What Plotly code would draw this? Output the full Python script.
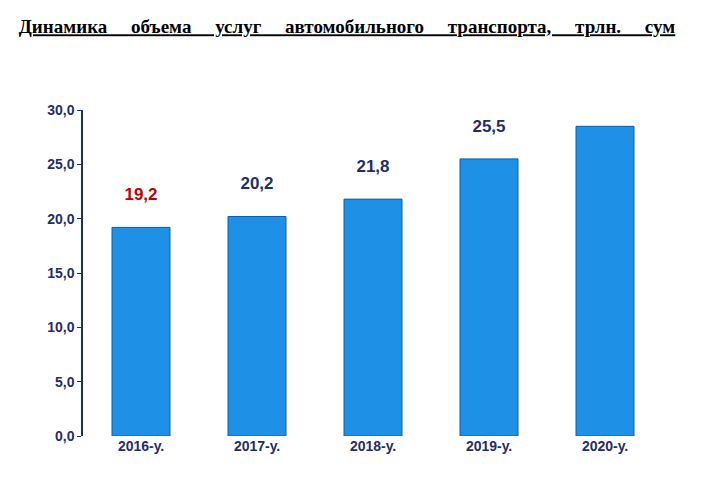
import plotly.graph_objects as go

years = ["2016-у.", "2017-у.", "2018-у.", "2019-у.", "2020-у."]
values = [19.2, 20.2, 21.8, 25.5, 28.5]
label_colors = ["#c00000", "#1f2d6b", "#1f2d6b", "#1f2d6b", "#2e7d1e"]
tick_vals = [0, 5, 10, 15, 20, 25, 30]
tick_text = ["0,0", "5,0", "10,0", "15,0", "20,0", "25,0", "30,0"]
label_text = ["19,2", "20,2", "21,8", "25,5", "28,5"]

words = ["Динамика", "объема", "услуг", "автомобильного", "транспорта,", "трлн.", "сум"]
title = "&nbsp;&nbsp;&nbsp;&nbsp;&nbsp;".join(words)

fig = go.Figure()
fig.add_bar(x=years, y=values, width=0.5,
            marker=dict(color="#1e90e6", line=dict(color="#0d5fa8", width=1)),
            showlegend=False)
fig.add_scatter(x=years, y=[v + 2.9 for v in values], mode="text",
                text=["<b>%s</b>" % t for t in label_text], cliponaxis=False,
                textfont=dict(family="Arial", size=17, color=label_colors),
                showlegend=False, hoverinfo="skip")
fig.update_layout(
    width=720, height=480, plot_bgcolor="white", paper_bgcolor="white",
    margin=dict(l=75, r=65, t=102, b=52),
    title=dict(text="<b><u>%s</u></b>" % title,
               x=0.015, xanchor="left", y=0.975, yanchor="top",
               font=dict(family="Liberation Serif", size=19, color="black")),
    xaxis=dict(showline=False, ticks="", tickfont=dict(family="Arial", size=14, color="#1f2d6b"),
               tickprefix="<b>", ticksuffix="</b>"),
    yaxis=dict(range=[0, 30], tickvals=tick_vals, ticktext=["<b>%s</b>" % t for t in tick_text],
               showgrid=False, showline=True, linecolor="#1f2d6b", linewidth=1.5,
               ticks="outside", ticklen=4, tickcolor="#1f2d6b",
               tickfont=dict(family="Arial", size=14, color="#1f2d6b")),
)
fig.write_html("out.html")
